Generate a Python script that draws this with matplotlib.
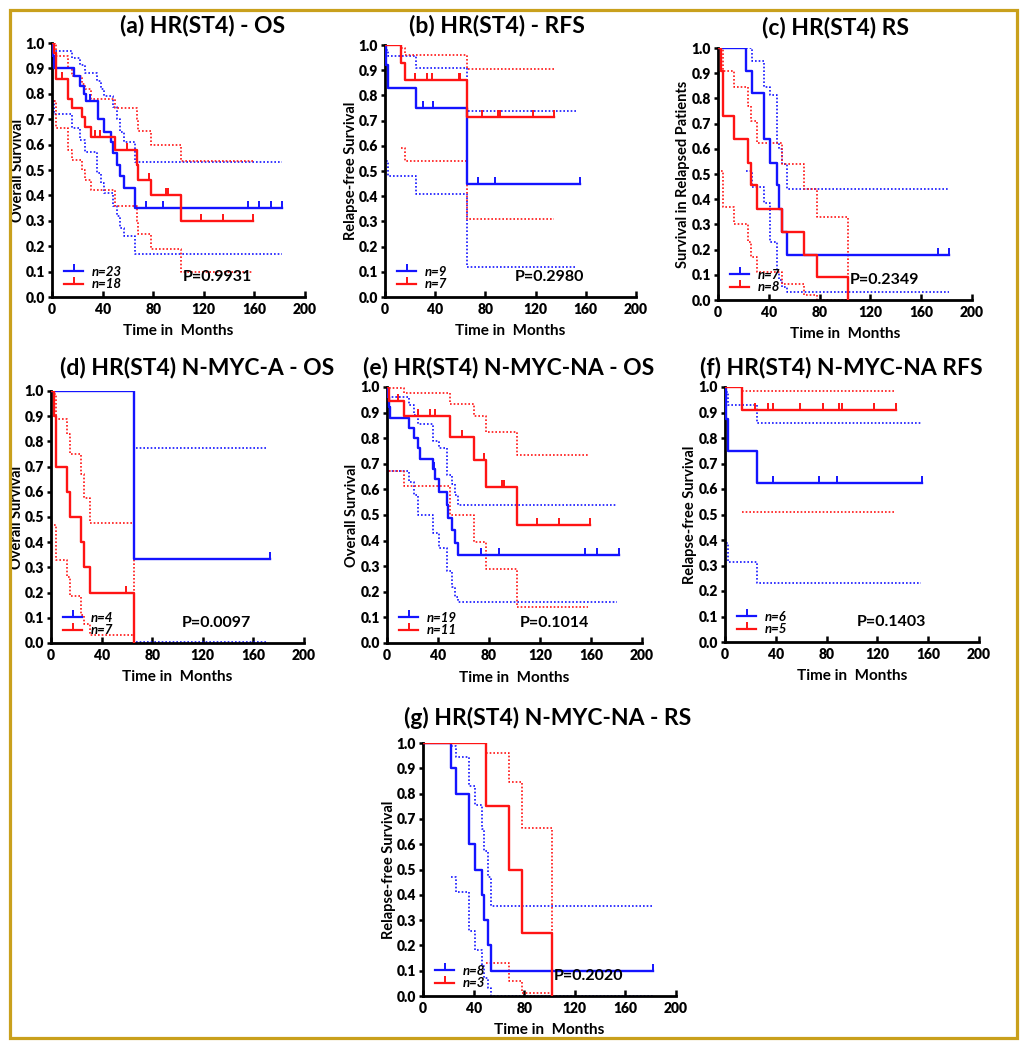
import numpy as np
import matplotlib
matplotlib.use("Agg")
import matplotlib.pyplot as plt
from matplotlib.path import Path
from matplotlib.lines import Line2D
from matplotlib.patches import Rectangle

plt.rcParams['font.family'] = ['Lato', 'DejaVu Sans']
plt.rcParams['font.weight'] = 'bold'

BLUE = '#1414FF'
RED = '#FF1414'
GOLD = '#C9A01C'

# -----------------------------
# Data
# -----------------------------
# (a) HR(ST4) - OS
a_blue_t = [0, 0.8, 1.5, 17, 22, 25, 27, 36, 41, 47, 48.5, 51, 54, 57, 66, 182]
a_blue_s = [1.0, 0.95, 0.90, 0.87, 0.83, 0.80, 0.77, 0.70, 0.65, 0.61, 0.565, 0.52, 0.475, 0.43, 0.35, 0.35]
a_blue_c = [30, 36, 74, 88, 155, 164, 173, 182]
a_blue_ci_t = [0.8, 1.5, 15.5, 22, 26, 35.5, 38.5, 41, 48, 51, 54, 57, 66, 182]
a_blue_hi = [0.99, 0.97, 0.94, 0.915, 0.88, 0.85, 0.82, 0.79, 0.75, 0.70, 0.65, 0.61, 0.53, 0.53]
a_blue_lo = [0.77, 0.72, 0.665, 0.62, 0.57, 0.49, 0.45, 0.41, 0.36, 0.32, 0.27, 0.24, 0.17, 0.17]
a_red_t = [0, 1.3, 3.5, 13, 16, 24, 26, 31, 50, 67, 68, 78, 102, 159]
a_red_s = [1.0, 0.96, 0.86, 0.78, 0.745, 0.71, 0.67, 0.63, 0.58, 0.52, 0.46, 0.40, 0.30, 0.30]
a_red_c = [8, 34, 38, 59, 77, 90, 92, 118, 135, 159]
a_red_ci_t = [1.3, 3.5, 13, 16, 24, 26, 31, 50, 67, 68, 78, 102, 159]
a_red_hi = [1.0, 0.95, 0.90, 0.87, 0.84, 0.82, 0.78, 0.745, 0.70, 0.655, 0.60, 0.535, 0.535]
a_red_lo = [0.77, 0.665, 0.58, 0.54, 0.50, 0.46, 0.42, 0.36, 0.30, 0.25, 0.19, 0.10, 0.10]

# (b) HR(ST4) - RFS
b_blue_t = [0, 0.8, 2.1, 24.7, 65.6, 155]
b_blue_s = [1.0, 0.92, 0.83, 0.75, 0.45, 0.45]
b_blue_c = [30, 38, 74, 88, 155]
b_blue_ci_t = [0.8, 2.1, 24.7, 65.6, 153]
b_blue_hi = [0.98, 0.955, 0.91, 0.74, 0.74]
b_blue_lo = [0.54, 0.48, 0.41, 0.12, 0.12]
b_red_t = [0, 12.7, 16, 65.6, 135]
b_red_s = [1.0, 0.93, 0.86, 0.715, 0.715]
b_red_c = [24, 33.7, 37.7, 59, 60, 77, 90, 92, 118, 135]
b_red_ci_t = [12.7, 16, 65.6, 135]
b_red_hi = [0.99, 0.96, 0.905, 0.905]
b_red_lo = [0.59, 0.54, 0.31, 0.31]

# (c) HR(ST4) RS
c_blue_t = [0, 21.8, 27, 36, 40.8, 46.6, 48, 50, 54, 182]
c_blue_s = [1.0, 0.91, 0.82, 0.64, 0.545, 0.455, 0.36, 0.27, 0.18, 0.18]
c_blue_c = [173, 182]
c_blue_ci_t = [21.8, 27, 36, 40.8, 46.6, 48, 50, 54, 182]
c_blue_hi = [1.0, 0.95, 0.845, 0.815, 0.625, 0.60, 0.54, 0.44, 0.44]
c_blue_lo = [0.51, 0.45, 0.385, 0.23, 0.11, 0.08, 0.05, 0.03, 0.03]
c_red_t = [0, 2.6, 4, 12.6, 24, 26, 31, 50, 68, 77.6, 102]
c_red_s = [1.0, 0.91, 0.73, 0.64, 0.545, 0.455, 0.36, 0.27, 0.18, 0.09, 0.0]
c_red_c = []
c_red_ci_t = [2.6, 4, 12.6, 24, 26, 31, 50, 68, 77.6, 102]
c_red_hi = [1.0, 0.91, 0.845, 0.77, 0.71, 0.625, 0.54, 0.44, 0.33, 0.0]
c_red_lo = [0.51, 0.37, 0.30, 0.23, 0.17, 0.11, 0.065, 0.02, 0.0, 0.0]

# (d) HR(ST4) N-MYC-A - OS
d_blue_t = [0, 65.8, 173]
d_blue_s = [1.0, 0.333, 0.333]
d_blue_c = [30, 173]
d_blue_ci_t = [67, 171]
d_blue_hi = [0.775, 0.775]
d_blue_lo = [0.005, 0.005]
d_red_t = [0, 2.6, 4, 12.6, 15.3, 24, 25.8, 30.5, 65.8]
d_red_s = [1.0, 0.9, 0.7, 0.6, 0.5, 0.4, 0.3, 0.2, 0.0]
d_red_c = [59.5]
d_red_ci_t = [2.2, 4, 12.6, 15.3, 24, 25.8, 30.5, 65.8]
d_red_hi = [0.99, 0.89, 0.83, 0.75, 0.67, 0.575, 0.475, 0.0]
d_red_lo = [0.47, 0.33, 0.26, 0.185, 0.11, 0.075, 0.03, 0.0]

# (e) HR(ST4) N-MYC-NA - OS
e_blue_t = [0, 0.8, 1.6, 2.6, 17, 21.4, 24, 26, 36, 37.5, 41, 47, 47.5, 51, 53.6, 56, 182]
e_blue_s = [1.0, 0.96, 0.92, 0.88, 0.84, 0.80, 0.76, 0.72, 0.68, 0.64, 0.59, 0.54, 0.49, 0.44, 0.39, 0.345, 0.345]
e_blue_c = [37, 74, 88, 155, 165, 182]
e_blue_ci_t = [0.8, 17, 21.4, 24, 36, 41, 47, 51, 53.6, 56, 180]
e_blue_hi = [0.96, 0.93, 0.89, 0.855, 0.79, 0.76, 0.655, 0.62, 0.58, 0.54, 0.54]
e_blue_lo = [0.67, 0.63, 0.58, 0.50, 0.43, 0.37, 0.28, 0.22, 0.18, 0.16, 0.16]
e_red_t = [0, 1.3, 13, 49.7, 68, 77.6, 102, 159]
e_red_s = [1.0, 0.945, 0.885, 0.805, 0.715, 0.61, 0.46, 0.46]
e_red_c = [8.4, 24, 33.5, 38, 59, 76, 90, 92, 118, 135, 159]
e_red_ci_t = [1.3, 13, 49.7, 68, 77.6, 102, 158]
e_red_hi = [0.995, 0.975, 0.935, 0.885, 0.825, 0.735, 0.735]
e_red_lo = [0.67, 0.615, 0.50, 0.395, 0.29, 0.14, 0.14]

# (f) HR(ST4) N-MYC-NA RFS
f_blue_t = [0, 0.8, 2.6, 25.4, 155]
f_blue_s = [1.0, 0.875, 0.75, 0.625, 0.625]
f_blue_c = [38, 74, 88, 155]
f_blue_ci_t = [0.8, 2.6, 25.4, 154]
f_blue_hi = [0.98, 0.93, 0.86, 0.86]
f_blue_lo = [0.39, 0.315, 0.23, 0.23]
f_red_t = [0, 13, 135]
f_red_s = [1.0, 0.91, 0.91]
f_red_c = [23.6, 33.5, 38, 59, 77, 90, 92, 117.5, 135]
f_red_ci_t = [13, 134]
f_red_hi = [0.985, 0.985]
f_red_lo = [0.51, 0.51]

# (g) HR(ST4) N-MYC-NA - RS
g_blue_t = [0, 21.9, 26.4, 36, 41, 46.7, 48, 51, 54, 182]
g_blue_s = [1.0, 0.9, 0.8, 0.6, 0.5, 0.4, 0.3, 0.2, 0.1, 0.1]
g_blue_c = [182]
g_blue_ci_t = [21.9, 26.4, 36, 41, 46.7, 48, 51, 54, 182]
g_blue_hi = [0.99, 0.945, 0.83, 0.755, 0.66, 0.575, 0.47, 0.355, 0.355]
g_blue_lo = [0.47, 0.41, 0.255, 0.18, 0.12, 0.07, 0.03, 0.0, 0.0]
g_red_t = [0, 50, 68, 78, 102]
g_red_s = [1.0, 0.75, 0.5, 0.25, 0.0]
g_red_c = []
g_red_ci_t = [50, 68, 78, 102]
g_red_hi = [0.96, 0.845, 0.665, 0.0]
g_red_lo = [0.13, 0.06, 0.01, 0.0]

titles = ["(a) HR(ST4) - OS", "(b) HR(ST4) - RFS", "(c) HR(ST4) RS",
          "(d) HR(ST4) N-MYC-A - OS", "(e) HR(ST4) N-MYC-NA - OS",
          "(f) HR(ST4) N-MYC-NA RFS", "(g) HR(ST4) N-MYC-NA - RS"]
ylabels = ["Overall Survival", "Relapse-free Survival", "Survival in Relapsed Patients",
           "Overall Survival", "Overall Survival", "Relapse-free Survival",
           "Relapse-free Survival"]
n_blue = [23, 9, 7, 4, 19, 6, 8]
n_red = [18, 7, 8, 7, 11, 5, 3]
p_values = ["0.9931", "0.2980", "0.2349", "0.0097", "0.1014", "0.1403", "0.2020"]
x_ticks = [0, 40, 80, 120, 160, 200]
y_ticks = [0.0, 0.1, 0.2, 0.3, 0.4, 0.5, 0.6, 0.7, 0.8, 0.9, 1.0]

# -----------------------------
# Layout (pixels)
# -----------------------------
W, H = 1026, 1050
# left, bottom, right, top of each axes box
boxes = [(52, 297, 305, 43), (385, 297, 636, 45), (718, 300, 972, 48),
         (51, 643, 304, 391), (387, 643, 642, 387), (725, 642, 979, 387),
         (423, 996, 676, 743)]
title_pos = [(203, 25), (497, 26), (835, 27), (197, 367), (509, 367), (841, 367), (548, 718)]

# upward tick used for censored observations
TICK = Path([(0, 0), (0, 1)])


def step_at(t, s, ct):
    idx = np.searchsorted(np.asarray(t), np.asarray(ct, dtype=float), side='right') - 1
    return np.asarray(s)[idx]


def draw_group(ax, t, s, c, ci_t, hi, lo, color):
    ax.step(ci_t, hi, where='post', color=color, lw=1.2, ls=(0, (1, 1.2)), zorder=2)
    ax.step(ci_t, lo, where='post', color=color, lw=1.2, ls=(0, (1, 1.2)), zorder=2)
    ax.step(t, s, where='post', color=color, lw=1.7, zorder=3)
    if len(c):
        ax.plot(c, step_at(t, s, c), ls='none', marker=TICK, ms=10, mew=1.4,
                color=color, zorder=3)


fig = plt.figure(figsize=(W / 100, H / 100), dpi=100)

groups = [
    ((a_blue_t, a_blue_s, a_blue_c, a_blue_ci_t, a_blue_hi, a_blue_lo),
     (a_red_t, a_red_s, a_red_c, a_red_ci_t, a_red_hi, a_red_lo)),
    ((b_blue_t, b_blue_s, b_blue_c, b_blue_ci_t, b_blue_hi, b_blue_lo),
     (b_red_t, b_red_s, b_red_c, b_red_ci_t, b_red_hi, b_red_lo)),
    ((c_blue_t, c_blue_s, c_blue_c, c_blue_ci_t, c_blue_hi, c_blue_lo),
     (c_red_t, c_red_s, c_red_c, c_red_ci_t, c_red_hi, c_red_lo)),
    ((d_blue_t, d_blue_s, d_blue_c, d_blue_ci_t, d_blue_hi, d_blue_lo),
     (d_red_t, d_red_s, d_red_c, d_red_ci_t, d_red_hi, d_red_lo)),
    ((e_blue_t, e_blue_s, e_blue_c, e_blue_ci_t, e_blue_hi, e_blue_lo),
     (e_red_t, e_red_s, e_red_c, e_red_ci_t, e_red_hi, e_red_lo)),
    ((f_blue_t, f_blue_s, f_blue_c, f_blue_ci_t, f_blue_hi, f_blue_lo),
     (f_red_t, f_red_s, f_red_c, f_red_ci_t, f_red_hi, f_red_lo)),
    ((g_blue_t, g_blue_s, g_blue_c, g_blue_ci_t, g_blue_hi, g_blue_lo),
     (g_red_t, g_red_s, g_red_c, g_red_ci_t, g_red_hi, g_red_lo)),
]

for i, (blue, red) in enumerate(groups):
    l, b, r, t = boxes[i]
    ax = fig.add_axes([l / W, 1 - b / H, (r - l) / W, (b - t) / H])

    draw_group(ax, *blue, BLUE)
    draw_group(ax, *red, RED)

    ax.set_xlim(0, 200)
    ax.set_ylim(0, 1.0)
    ax.set_xticks(x_ticks)
    ax.set_yticks(y_ticks)
    ax.set_yticklabels([f"{v:.1f}" for v in y_ticks])
    ax.tick_params(axis='x', direction='in', length=4, width=1.8, labelsize=10, pad=4)
    ax.tick_params(axis='y', direction='out', length=3, width=1.8, labelsize=10, pad=2)
    for lab in ax.get_xticklabels() + ax.get_yticklabels():
        lab.set_fontweight('heavy')
    for side in ['top', 'right']:
        ax.spines[side].set_visible(False)
    for side in ['left', 'bottom']:
        ax.spines[side].set_linewidth(2.0)
    ax.patch.set_alpha(0)

    ax.set_xlabel("Time in  Months", fontsize=11, fontweight='bold')
    ax.xaxis.label.set_va('center')
    ax.xaxis.set_label_coords(0.5, -0.135)
    ax.set_ylabel(ylabels[i], fontsize=10.5, fontweight='bold')
    ax.yaxis.label.set_va('center')
    ax.yaxis.set_label_coords(-0.136, 0.5)

    handles = [Line2D([], [], color=BLUE, lw=1.6, marker=TICK, ms=10, mew=1.4),
               Line2D([], [], color=RED, lw=1.6, marker=TICK, ms=10, mew=1.4)]
    ax.legend(handles, [f"n={n_blue[i]}", f"n={n_red[i]}"], loc='lower left',
              bbox_to_anchor=(0.02, 0.0), frameon=False, handlelength=1.5,
              handletextpad=0.6, labelspacing=0.05, borderpad=0, numpoints=1,
              prop={'size': 9.5, 'weight': 'bold', 'style': 'italic'})

    ax.text(131, 0.08, f"P={p_values[i]}", ha='center', va='center',
            fontsize=11.5, fontweight='bold')

    tx, ty = title_pos[i]
    fig.text(tx / W, 1 - ty / H, titles[i], ha='center', va='center',
             fontsize=16.5, fontweight='bold')

# gold frame around the whole figure
fig.patches.append(Rectangle((9.5 / W, 1 - 1037.5 / H), 1007 / W, 1028 / H,
                             transform=fig.transFigure, fill=False,
                             edgecolor=GOLD, lw=2.3))

fig.savefig("out.png", dpi=100)
